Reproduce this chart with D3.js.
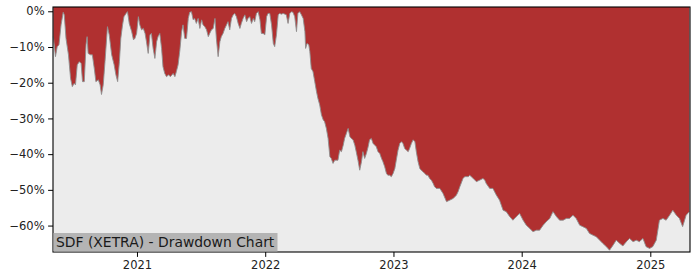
<!DOCTYPE html>
<meta charset="utf-8">
<head>
<script src="https://d3js.org/d3.v7.min.js"></script>
<style>
  body { margin: 0; background: #fff; }
  text { font-family: "DejaVu Sans", sans-serif; }
</style>
</head>
<body>
<div id="chart"></div>
<script>
// drawdown (%), one value per date
const dates = [
  "2020-05-08","2020-05-14","2020-05-19","2020-05-24","2020-05-30","2020-06-05","2020-06-08","2020-06-13","2020-06-20","2020-06-26",
  "2020-07-01","2020-07-06","2020-07-10","2020-07-15","2020-07-21","2020-07-26","2020-07-30","2020-08-04","2020-08-09","2020-08-12",
  "2020-08-15","2020-08-22","2020-08-27","2020-09-02","2020-09-06","2020-09-13","2020-09-18","2020-09-22","2020-09-27","2020-10-02",
  "2020-10-09","2020-10-14","2020-10-21","2020-10-28","2020-11-02","2020-11-07","2020-11-12","2020-11-16","2020-11-21","2020-11-25",
  "2020-12-01","2020-12-05","2020-12-10","2020-12-17","2020-12-22","2020-12-26","2020-12-31",
  "2021-01-05","2021-01-09","2021-01-14","2021-01-19","2021-01-24","2021-01-28","2021-02-02","2021-02-07","2021-02-11","2021-02-16",
  "2021-02-21","2021-02-26","2021-03-02","2021-03-07","2021-03-12","2021-03-16","2021-03-21","2021-03-26","2021-04-01","2021-04-06",
  "2021-04-14","2021-04-19","2021-04-23","2021-04-28","2021-05-03","2021-05-08","2021-05-12","2021-05-17","2021-05-22","2021-05-27",
  "2021-05-31","2021-06-05","2021-06-10","2021-06-14","2021-06-19","2021-06-24","2021-06-29","2021-07-04","2021-07-08","2021-07-13",
  "2021-07-18","2021-07-23","2021-07-27","2021-08-01","2021-08-06","2021-08-11","2021-08-15","2021-08-20","2021-08-25","2021-08-29",
  "2021-09-03","2021-09-08","2021-09-13","2021-09-17","2021-09-22","2021-09-27","2021-10-02","2021-10-06","2021-10-11","2021-10-16",
  "2021-10-21","2021-10-25","2021-10-30","2021-11-04","2021-11-09","2021-11-13","2021-11-18","2021-11-23","2021-11-28","2021-12-02",
  "2021-12-07","2021-12-12","2021-12-17","2021-12-21","2021-12-26","2021-12-31",
  "2022-01-05","2022-01-09","2022-01-14","2022-01-19","2022-01-24","2022-01-28","2022-02-02","2022-02-07","2022-02-11","2022-02-16",
  "2022-02-21","2022-02-26","2022-03-02","2022-03-07","2022-03-12","2022-03-17","2022-03-21","2022-03-26","2022-03-31","2022-04-04",
  "2022-04-09","2022-04-14","2022-04-19","2022-04-24","2022-04-26","2022-04-30","2022-05-05","2022-05-08","2022-05-12","2022-05-17",
  "2022-05-22","2022-05-27","2022-05-31","2022-06-05","2022-06-10","2022-06-15","2022-06-19","2022-06-24","2022-06-29","2022-07-04",
  "2022-07-08","2022-07-13","2022-07-18","2022-07-23","2022-07-27","2022-08-01","2022-08-06","2022-08-11","2022-08-15","2022-08-20",
  "2022-08-25","2022-08-30","2022-09-03","2022-09-08","2022-09-13","2022-09-17","2022-09-22","2022-09-27","2022-10-02","2022-10-06",
  "2022-10-11","2022-10-16","2022-10-21","2022-10-25","2022-10-30","2022-11-04","2022-11-09","2022-11-13","2022-11-18","2022-11-23",
  "2022-11-28","2022-12-02","2022-12-07","2022-12-12","2022-12-16","2022-12-21","2022-12-26","2022-12-31",
  "2023-01-05","2023-01-09","2023-01-14","2023-01-19","2023-01-24","2023-01-28","2023-02-02","2023-02-07","2023-02-12","2023-02-16",
  "2023-02-21","2023-02-26","2023-03-03","2023-03-07","2023-03-12","2023-03-17","2023-03-21","2023-03-26","2023-03-31","2023-04-05",
  "2023-04-09","2023-04-14","2023-04-19","2023-04-24","2023-04-28","2023-05-03","2023-05-08","2023-05-13","2023-05-22","2023-06-01",
  "2023-06-10","2023-06-20","2023-06-29","2023-07-04","2023-07-09","2023-07-18","2023-07-23","2023-08-02","2023-08-06","2023-08-16",
  "2023-08-25","2023-09-03","2023-09-13","2023-09-18","2023-09-22","2023-10-02","2023-10-11","2023-10-21","2023-10-30","2023-11-09",
  "2023-11-18","2023-11-28","2023-12-07","2023-12-17","2023-12-26",
  "2024-01-05","2024-01-14","2024-01-24","2024-02-02","2024-02-12","2024-02-21","2024-03-02","2024-03-11","2024-03-21","2024-03-30",
  "2024-04-09","2024-04-18","2024-04-28","2024-05-07","2024-05-16","2024-05-26","2024-06-04","2024-06-14","2024-06-23","2024-07-03",
  "2024-07-12","2024-07-22","2024-07-31","2024-08-10","2024-08-19","2024-08-29","2024-09-07","2024-09-17","2024-09-26","2024-10-06",
  "2024-10-15","2024-10-25","2024-11-03","2024-11-13","2024-11-22","2024-12-01","2024-12-11","2024-12-20","2024-12-30",
  "2025-01-08","2025-01-18","2025-01-27","2025-02-06","2025-02-15","2025-02-25","2025-03-06","2025-03-16","2025-03-25","2025-04-03",
  "2025-04-13","2025-04-22"
];
const drawdown = [
  -7.1,-12.7,-9.9,-9.4,-3.8,-0.3,-1.0,-7.6,-12.2,-18.8,
  -21.1,-20.2,-20.6,-15.0,-14.1,-14.6,-19.7,-19.7,-9.4,-7.1,
  -11.8,-12.2,-12.2,-16.4,-19.7,-19.2,-20.6,-23.3,-20.6,-14.1,
  -4.3,-6.6,-12.2,-15.0,-17.8,-19.7,-14.1,-7.6,-3.8,-1.5,
  -0.6,-0.1,-3.4,-5.7,-8.0,-7.6,-6.2,
  -1.5,-3.8,-5.2,-4.8,-6.2,-8.5,-11.8,-6.6,-6.2,-10.4,
  -13.2,-8.5,-7.1,-6.2,-10.4,-15.5,-17.4,-18.3,-17.8,-18.3,
  -17.4,-18.3,-16.9,-15.0,-11.0,-5.7,-3.8,-7.6,-7.6,-2.0,
  -0.3,-0.1,-2.4,-2.0,-3.4,-2.0,-4.8,-2.4,-3.8,-4.3,
  -5.2,-7.1,-6.2,-5.2,-4.8,-2.0,-7.6,-12.7,-8.5,-7.1,
  -6.2,-4.8,-3.8,-2.9,-5.2,-2.0,-1.0,-0.6,-1.5,-3.4,
  -4.8,-3.4,-2.0,-1.0,-2.9,-2.0,-1.5,-3.4,-2.0,-2.9,
  -0.6,-0.1,-2.4,-6.2,-6.2,-6.6,
  -1.5,-0.6,-0.6,-3.8,-9.0,-9.9,-6.6,-1.0,-0.6,-0.8,
  -0.6,-0.8,-1.0,-3.4,-0.6,-0.1,-0.3,-1.5,-5.7,-0.6,
  -0.1,-1.0,-2.0,-5.7,-10.4,-9.0,-9.4,-11.3,-16.0,-16.9,
  -19.7,-22.5,-24.4,-26.2,-29.0,-30.4,-30.9,-32.8,-35.6,-40.7,
  -41.2,-42.6,-41.7,-41.7,-41.7,-38.9,-39.3,-37.5,-35.6,-34.2,
  -32.8,-35.1,-35.6,-36.0,-37.5,-39.3,-41.7,-44.5,-42.1,-39.3,
  -41.2,-39.8,-37.9,-36.0,-35.6,-37.0,-37.5,-37.9,-39.3,-39.8,
  -41.2,-42.1,-43.5,-45.4,-45.9,-45.9,-46.3,-45.4,
  -44.0,-41.7,-38.9,-37.0,-36.5,-37.0,-38.4,-38.9,-39.3,-38.4,
  -37.0,-36.0,-36.5,-39.3,-42.1,-44.0,-44.5,-44.9,-45.4,-45.9,
  -45.9,-46.8,-47.3,-48.2,-49.1,-49.6,-49.6,-49.6,-51.0,-53.3,
  -52.9,-52.4,-51.5,-50.5,-49.1,-46.8,-46.3,-46.3,-45.9,-46.8,
  -47.7,-47.3,-46.8,-47.3,-48.2,-49.6,-49.6,-51.5,-52.9,-55.7,
  -56.1,-57.5,-58.5,-57.5,-56.6,
  -58.5,-59.9,-60.8,-61.7,-61.3,-61.3,-59.9,-58.9,-58.0,-56.1,
  -57.5,-58.5,-58.5,-58.0,-58.0,-57.1,-58.0,-59.9,-60.3,-60.8,
  -62.2,-62.7,-63.1,-64.1,-65.0,-65.9,-66.9,-65.5,-64.1,-65.0,
  -65.7,-64.5,-63.6,-64.5,-64.1,-64.5,-63.6,-65.9,-66.4,
  -65.9,-64.1,-58.5,-58.0,-58.5,-57.1,-55.7,-57.1,-58.0,-60.3,
  -57.1,-56.1
];
const yTicks = [0, -10, -20, -30, -40, -50, -60];
const xTicks = ["2021-01-01", "2022-01-01", "2023-01-01", "2024-01-01", "2025-01-01"];
const xDomain = ["2020-05-07", "2025-04-24"];
const yDomain = [-67.4, 1.2];
const title = "SDF (XETRA) - Drawdown Chart";

const width = 700, height = 280;
const plotLeft = 53, plotRight = 690, plotTop = 7, plotBottom = 252;

const parse = d3.utcParse("%Y-%m-%d");
const data = dates.map((d, i) => ({ date: parse(d), value: drawdown[i] }));

const svg = d3.select("#chart").append("svg")
  .attr("width", width)
  .attr("height", height);

const x = d3.scaleUtc()
  .domain(xDomain.map(parse))
  .range([plotLeft, plotRight]);

const y = d3.scaleLinear()
  .domain(yDomain)
  .range([plotBottom, plotTop]);

// light background of the plot
svg.append("rect")
  .attr("x", plotLeft).attr("y", plotTop)
  .attr("width", plotRight - plotLeft).attr("height", plotBottom - plotTop)
  .attr("fill", "#ececec");

// red area from the drawdown line up to the top of the axes
svg.append("path")
  .datum(data)
  .attr("fill", "#b03030")
  .attr("d", d3.area()
    .x(d => x(d.date))
    .y0(y(yDomain[1]))
    .y1(d => y(d.value)));

svg.append("path")
  .datum(data)
  .attr("fill", "none")
  .attr("stroke", "#8f8f8f")
  .attr("stroke-width", 0.9)
  .attr("d", d3.line()
    .x(d => x(d.date))
    .y(d => y(d.value)));

// axes
const fmt = d3.format(".0f");
const yAxis = svg.append("g")
  .attr("transform", `translate(${plotLeft},0)`)
  .call(d3.axisLeft(y).tickValues(yTicks).tickFormat(d => fmt(d) + "%")
    .tickSize(4.9).tickPadding(3.5));

const xAxis = svg.append("g")
  .attr("transform", `translate(0,${plotBottom})`)
  .call(d3.axisBottom(x).tickValues(xTicks.map(parse)).tickFormat(d3.utcFormat("%Y"))
    .tickSize(4.9).tickPadding(3.5));

[yAxis, xAxis].forEach(g => {
  g.select(".domain").remove();
  g.selectAll("line").attr("stroke", "#000").attr("stroke-width", 1);
  g.selectAll("text")
    .attr("fill", "#222")
    .style("font-size", "11.5px")
    .style("font-family", "'DejaVu Sans', sans-serif");
});

// frame
svg.append("rect")
  .attr("x", plotLeft).attr("y", plotTop)
  .attr("width", plotRight - plotLeft).attr("height", plotBottom - plotTop)
  .attr("fill", "none")
  .attr("stroke", "#000")
  .attr("stroke-width", 1.1);

// title label in lower-left
const label = svg.append("g");
label.append("rect")
  .attr("x", plotLeft + 0.5).attr("y", 233)
  .attr("width", 224).attr("height", plotBottom - 233 - 0.5)
  .attr("fill", "#b4b4b4");
label.append("text")
  .attr("x", plotLeft + 3).attr("y", 247)
  .attr("fill", "#1a1a1a")
  .style("font-size", "13.9px")
  .text(title);
</script>
</body>
